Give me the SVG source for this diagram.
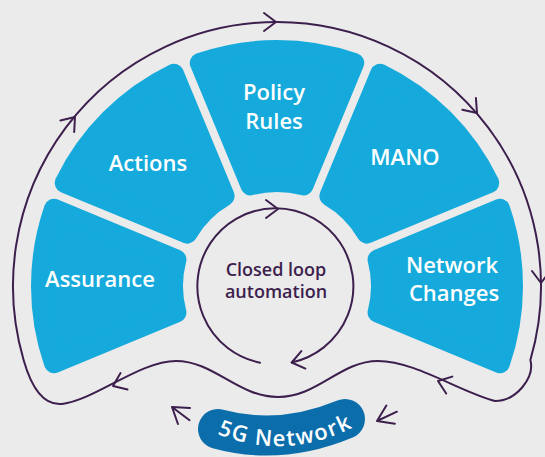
<svg xmlns="http://www.w3.org/2000/svg" xmlns:xlink="http://www.w3.org/1999/xlink" width="545" height="457" viewBox="0 0 545 457">
<style>
.blk{fill:#15aadb;stroke:#15aadb;stroke-width:20;stroke-linejoin:round}
.lbl{font-family:"Open Sans","Liberation Sans",sans-serif;font-weight:600;font-size:22px;fill:#ffffff;text-anchor:middle}
.inner{font-family:"Open Sans","Liberation Sans",sans-serif;font-weight:600;font-size:18px;fill:#3d1f4d;text-anchor:middle}
.ln{fill:none;stroke:#3d1f4d;stroke-width:2;stroke-linecap:round;stroke-linejoin:round}
</style>
<defs>
<path id="chev" class="ln" d="M-12,-9 L0,0 L-12,9"/>
<path id="arr" class="ln" d="M-15,-10 L0,0 L-15,10 M0,0 L-22,0"/>
<path id="pillText" d="M 200,426 Q 285,470 370,418"/>
</defs>
<rect width="545" height="457" fill="#ebebeb"/>

<g id="assurance">
<path class="blk" d="M53.99,363.21 A236,236 0 0 1 53.99,208.79 L176.43,259.50 A104,104 0 0 0 176.43,312.50 Z"/>
<text class="lbl" x="100" y="287">Assurance</text>
</g>
<g id="actions">
<path class="blk" d="M64.71,182.91 A236,236 0 0 1 173.91,73.71 L224.63,196.15 A104,104 0 0 0 187.15,233.63 Z"/>
<text class="lbl" x="148" y="171">Actions</text>
</g>
<g id="policy-rules">
<path class="blk" d="M199.79,62.99 A236,236 0 0 1 354.21,62.99 L303.50,185.43 A104,104 0 0 0 250.50,185.43 Z"/>
<text class="lbl" x="274" y="100">Policy</text>
<text class="lbl" x="274" y="129">Rules</text>
</g>
<g id="mano">
<path class="blk" d="M380.09,73.71 A236,236 0 0 1 489.29,182.91 L366.85,233.63 A104,104 0 0 0 329.37,196.15 Z"/>
<text class="lbl" x="405" y="165">MANO</text>
</g>
<g id="network-changes">
<path class="blk" d="M500.01,208.79 A236,236 0 0 1 500.01,363.21 L377.57,312.50 A104,104 0 0 0 377.57,259.50 Z"/>
<text class="lbl" x="452" y="273">Network</text>
<text class="lbl" x="454" y="301">Changes</text>
</g>
<g id="closed-loop">
<text class="inner" x="276" y="276">Closed loop</text>
<text class="inner" x="276" y="298">automation</text>
</g>
<g id="network-5g">
<path d="M 218,429 Q 280,446 345,419" fill="none" stroke="#0b6eab" stroke-width="40" stroke-linecap="round"/>
<text class="lbl" letter-spacing="1.5"><textPath href="#pillText" xlink:href="#pillText" startOffset="50%">5G Network</textPath></text>
</g>

<g id="connectors">
<path class="ln" d="M 23.6,360 A 264 264 0 1 1 530.4,360 C 535,378 516,401 495,401 C 460,392 415,361 378,361 C 340,361 318,397 278,397 C 238,397 214,361 176,361 C 140,361 95,400 62,404 C 40,406 29,379 23.6,360 Z"/>
<path class="ln" d="M 260,362.7 A 78 78 0 1 1 291.7,362.5"/>
<use href="#chev" xlink:href="#chev" transform="translate(276,22)"/>
<use href="#chev" xlink:href="#chev" transform="translate(75,117) rotate(-50)"/>
<use href="#chev" xlink:href="#chev" transform="translate(477,113) rotate(49)"/>
<use href="#chev" xlink:href="#chev" transform="translate(541,283) rotate(90)"/>
<use href="#chev" xlink:href="#chev" transform="translate(438,381) rotate(200)"/>
<use href="#chev" xlink:href="#chev" transform="translate(113,386) rotate(157)"/>
<use href="#chev" xlink:href="#chev" transform="translate(278,209)"/>
<use href="#chev" xlink:href="#chev" transform="translate(291.7,362.5) rotate(167)"/>
<use href="#arr" xlink:href="#arr" transform="translate(172,407) rotate(217)"/>
<use href="#arr" xlink:href="#arr" transform="translate(377,421) rotate(155)"/>
</g>
</svg>
